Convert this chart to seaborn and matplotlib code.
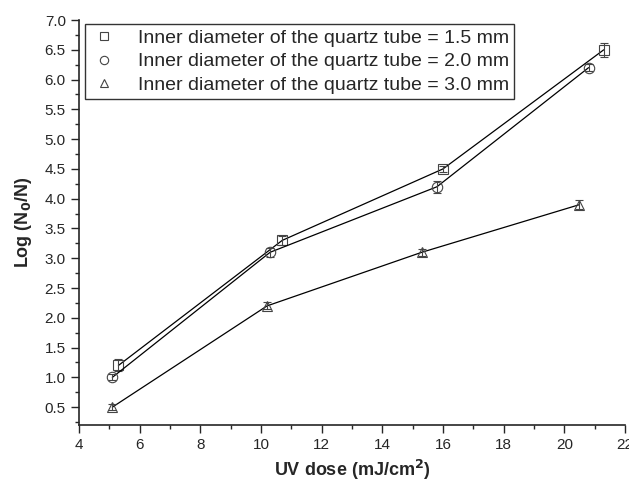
import matplotlib
matplotlib.use("Agg")
import matplotlib.pyplot as plt
import seaborn as sns
import pandas as pd
from matplotlib.lines import Line2D
from matplotlib.ticker import MultipleLocator

sns.set_style("ticks")
plt.rcParams['font.family'] = ['Liberation Sans', 'DejaVu Sans']

labels = ["Inner diameter of the quartz tube = 1.5 mm",
          "Inner diameter of the quartz tube = 2.0 mm",
          "Inner diameter of the quartz tube = 3.0 mm"]
markers = ["s", "o", "^"]

dose_15 = [5.3, 10.7, 16.0, 21.3]
log_15 = [1.2, 3.3, 4.5, 6.5]
err_15 = [0.10, 0.07, 0.05, 0.12]

dose_20 = [5.1, 10.3, 15.8, 20.8]
log_20 = [1.0, 3.1, 4.2, 6.2]
err_20 = [0.05, 0.08, 0.10, 0.06]

dose_30 = [5.1, 10.2, 15.3, 20.5]
log_30 = [0.5, 2.2, 3.1, 3.9]
err_30 = [0.05, 0.06, 0.06, 0.08]

series = [(dose_15, log_15, err_15), (dose_20, log_20, err_20), (dose_30, log_30, err_30)]

fig = plt.figure(figsize=(6.29, 4.86), dpi=100)
ax = fig.add_axes([0.1256, 0.1255, 0.868, 0.8333])

for (x, y, e), lab, m in zip(series, labels, markers):
    df = pd.DataFrame({"x": x, "y": y})
    sns.lineplot(data=df, x="x", y="y", ax=ax, color="black", linewidth=0.9,
                 marker=m, markersize=7.5, markerfacecolor="none",
                 markeredgecolor="#444444", markeredgewidth=0.8)
    ax.errorbar(x, y, yerr=e, fmt="none", ecolor="#444444", elinewidth=0.8,
                capsize=3, capthick=0.8)

ax.set_xlim(4, 22)
ax.set_ylim(0.2, 7.0)
ax.xaxis.set_major_locator(MultipleLocator(2))
ax.xaxis.set_minor_locator(MultipleLocator(1))
ax.yaxis.set_major_locator(MultipleLocator(0.5))
ax.yaxis.set_minor_locator(MultipleLocator(0.25))
ax.tick_params(which="major", length=6, width=1, labelsize=11)
ax.tick_params(which="minor", length=3, width=1)
for s in ["top", "right"]:
    ax.spines[s].set_visible(False)
for s in ["left", "bottom"]:
    ax.spines[s].set_linewidth(1.2)

ax.set_xlabel("UV dose (mJ/cm$^\\mathbf{2}$)", fontsize=13, fontweight="bold")
ax.set_ylabel("Log (N$_\\mathbf{0}$/N)", fontsize=13, fontweight="bold", labelpad=8)

handles = [Line2D([], [], linestyle="none", marker=m, markersize=6,
                  markerfacecolor="none", markeredgecolor="#444444",
                  markeredgewidth=0.8) for m in markers]
leg = ax.legend(handles, labels, loc="upper left", bbox_to_anchor=(0.011, 0.99),
                fontsize=14, frameon=True, fancybox=False, edgecolor="black",
                handlelength=1.5, handletextpad=1.0, borderpad=0.25,
                labelspacing=0.32, borderaxespad=0)
leg.get_frame().set_linewidth(1.0)

fig.savefig("out.png", dpi=100)
